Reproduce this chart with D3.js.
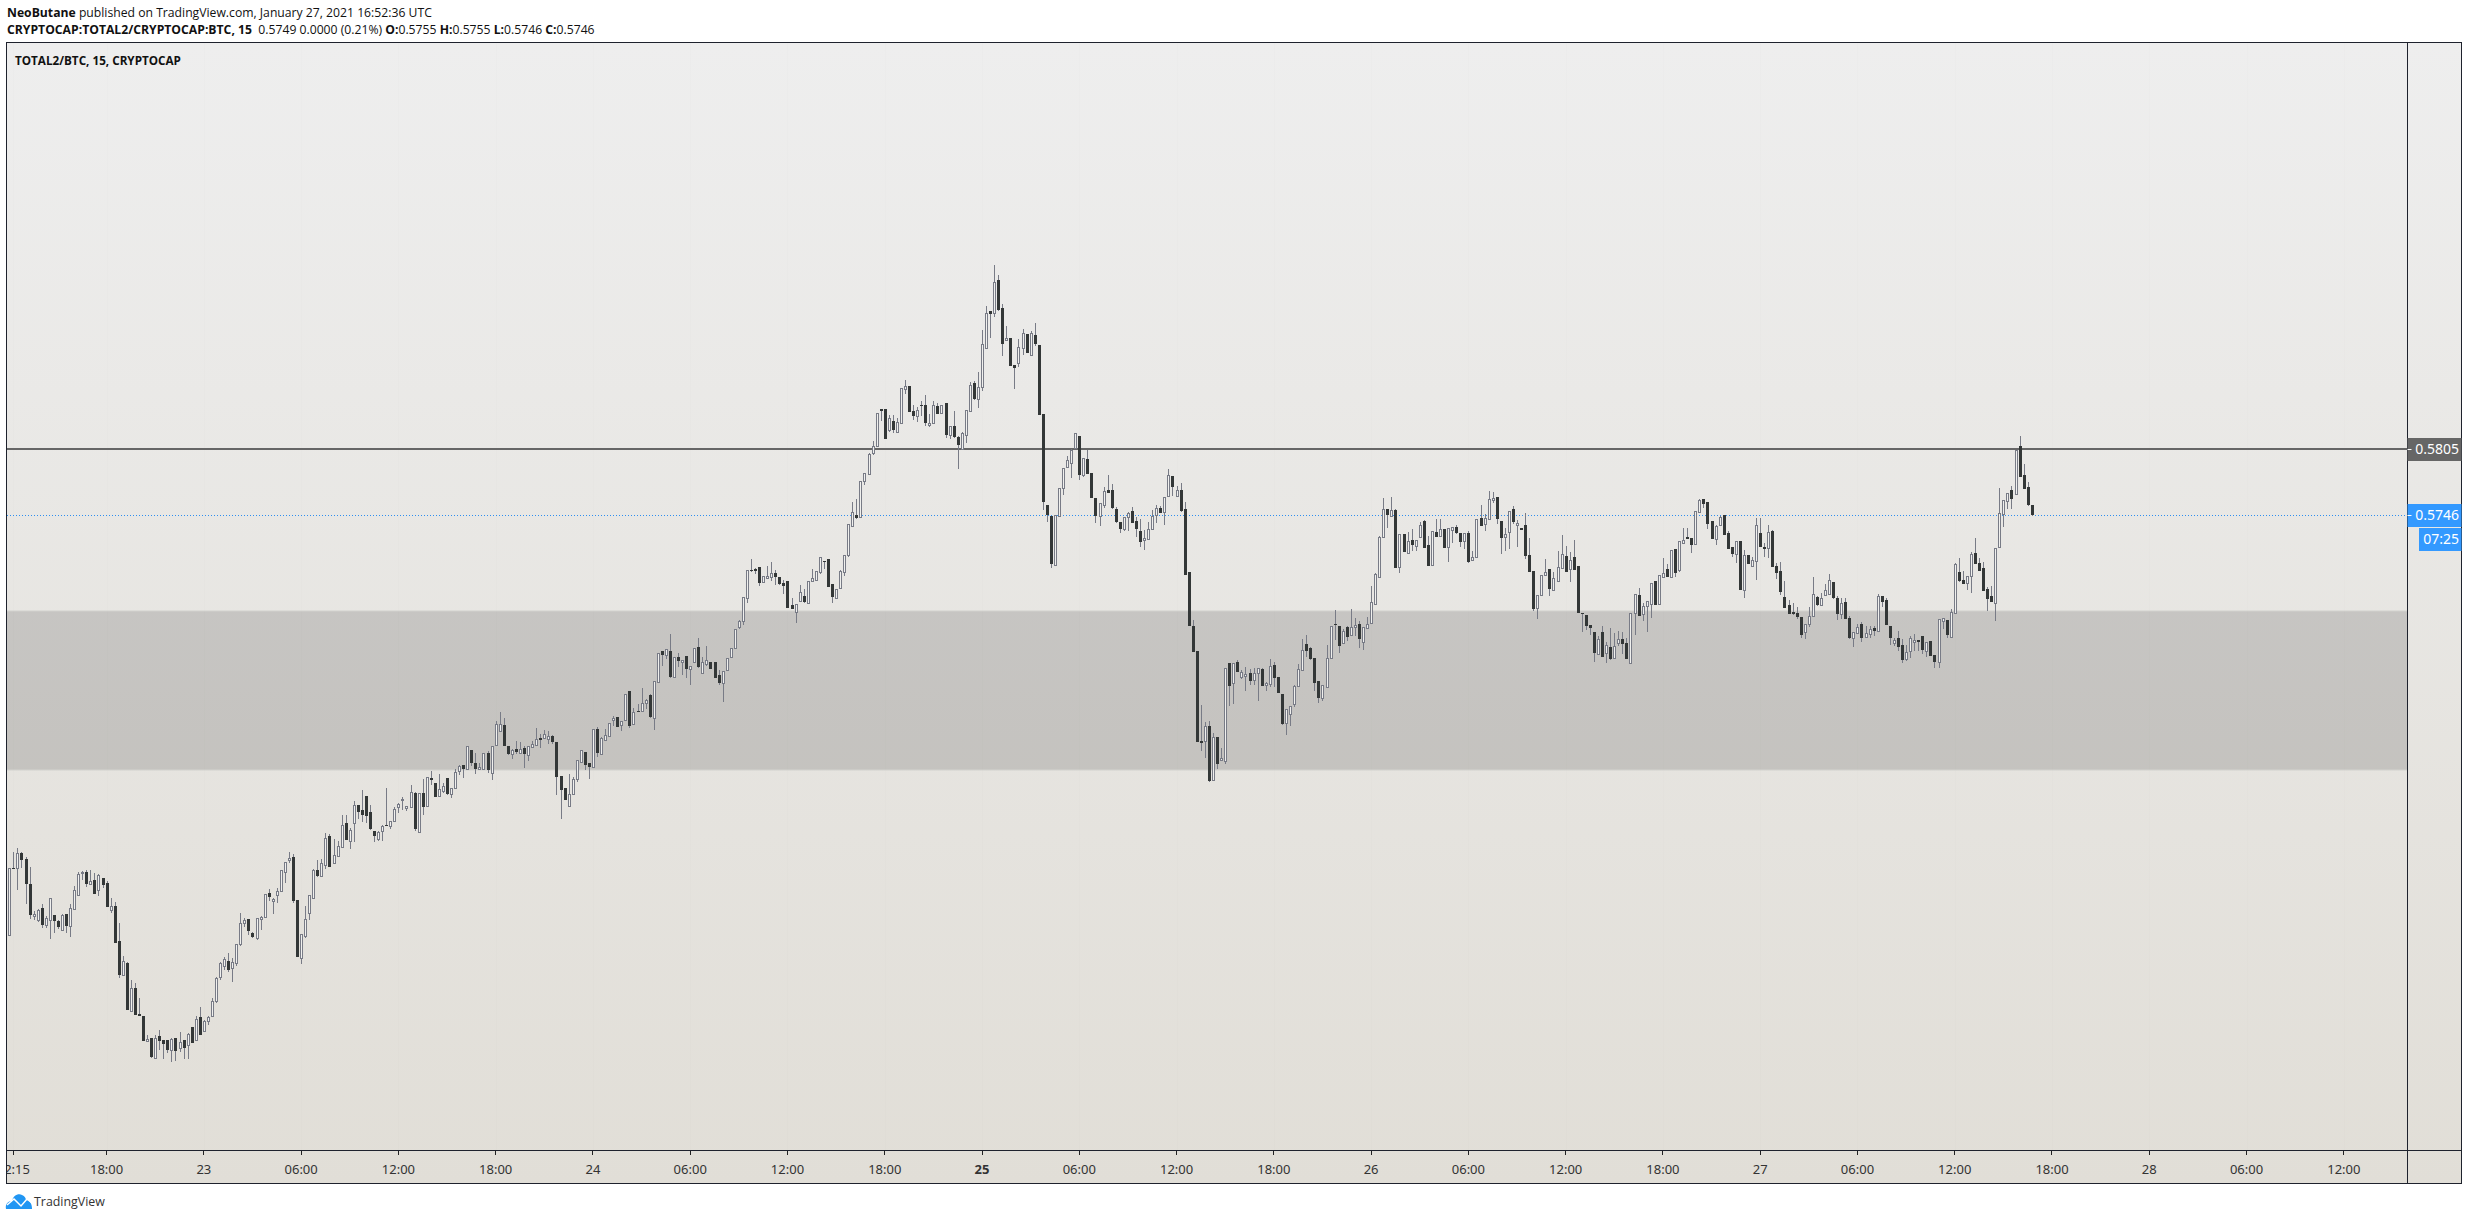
<!DOCTYPE html>
<html>
<head>
<meta charset="utf-8">
<script src="https://cdn.jsdelivr.net/npm/d3@7"></script>
<style>
  html, body { margin: 0; padding: 0; background: #fff; }
  svg { display: block; }
  text { font-family: "Open Sans", "Noto Sans", sans-serif; }
  .tick-label { font-family: "Noto Sans", sans-serif; font-size: 13px; fill: #333; }
  .price-label { font-family: "Noto Sans", sans-serif; font-size: 14px; fill: #fff; }
</style>
</head>
<body>
<div id="chart"></div>
<script>
// prices, in 1/100000 of a unit, one candle every 15 minutes from Jan 22 12:00
const opens = [
53676,54279,54282,54411,54360,54135,53850,53814,53919,53769,
53814,53853,53802,53724,53862,53757,53913,54036,54237,54243,
54138,54171,54084,54189,54144,53904,53937,53619,53319,53424,
52995,53199,52965,52947,52725,52749,52566,52764,52728,52728,
52644,52749,52662,52728,52683,52845,52731,52935,52809,52905,
52950,53082,53301,53400,53439,53382,53424,53595,53787,53817,
53691,53652,53823,53838,54051,53985,54033,54075,54246,54354,
54375,53988,53472,53670,53877,54009,54261,54207,54306,54567,
54321,54390,54471,54681,54525,54687,54846,54798,54927,54780,
54609,54540,54615,54666,54660,54702,54831,54891,54822,54825,
54954,54606,54954,54840,55086,55041,54930,54972,55086,54948,
55002,55155,55203,55173,55338,55221,55173,55173,55314,55137,
55389,55515,55566,55377,55308,55347,55317,55356,55299,55371,
55389,55449,55452,55443,55467,55413,55107,54999,54840,54945,
55083,55236,55323,55221,55191,55530,55305,55431,55470,55614,
55635,55569,55614,55872,55578,55689,55695,55767,55836,55632,
55950,56229,56193,56232,56001,56175,56136,56184,56073,56130,
56265,56037,56118,56130,56130,56013,55941,56064,56181,56262,
56451,56505,56712,56958,56970,56985,56856,56892,56901,56934,
56898,56844,56862,56646,56580,56685,56727,56667,56865,56871,
56946,57039,57060,56835,56709,56802,56946,57096,57360,57453,
57441,57765,57828,58017,58080,58410,58410,58221,58302,58206,
58287,58593,58617,58392,58347,58446,58446,58266,58287,58437,
58377,58464,58179,58257,58161,58050,58179,58395,58641,58503,
58611,58962,59289,59277,59568,59316,59031,59046,58803,58827,
58962,59085,58893,59076,58986,58365,57543,57447,57003,57444,
57696,57891,57927,58056,58164,57816,57957,57831,57606,57450,
57546,57678,57681,57507,57390,57333,57435,57489,57399,57309,
57231,57243,57327,57456,57516,57486,57630,57807,57630,57681,
57510,56940,56457,56229,55422,55419,55557,55074,55458,55248,
55245,56124,55941,56133,55995,56004,56031,55968,56031,56067,
55923,55932,56103,55998,55842,55581,55662,55752,55914,56058,
56292,56256,56166,55959,55812,55911,56166,56475,56457,56301,
56445,56373,56445,56472,56310,56442,56481,56652,56895,57255,
57510,57450,57501,56985,57282,57117,57228,57180,57255,57402,
57183,57006,57303,57264,57327,57171,57324,57345,57291,57225,
57291,57048,57075,57429,57378,57417,57591,57615,57399,57255,
57300,57507,57363,57336,57363,57093,56949,56622,56733,56913,
56967,56784,56865,56982,57084,56967,57075,56994,56571,56553,
56466,56400,56202,56400,56211,56265,56172,56301,56340,56301,
56121,56577,56733,56568,56634,56652,56859,56652,56895,56967,
56898,57147,56964,57201,57255,57246,57192,57480,57597,57570,
57399,57237,57363,57453,57291,57165,57102,57219,56778,57093,
56994,57039,57291,57165,57156,57312,56997,56952,56718,56646,
56583,56571,56538,56406,56478,56550,56718,56649,56739,56748,
56850,56709,56568,56673,56529,56352,56394,56475,56361,56388,
56439,56415,56727,56691,56457,56307,56349,56286,56163,56232,
56316,56331,56367,56232,56322,56196,56136,56505,56511,56361,
56577,56943,56871,56847,56910,57114,57024,56979,56790,56727,
56667,57171,57468,57585,57681,57648,58074,57816,57708,57546
]

const closes = [
54276,54273,54411,54351,54135,53856,53862,53901,53766,53826,
54006,53802,53748,53856,53757,53916,54078,54225,54243,54135,
54159,54045,54213,54126,53928,53934,53604,53316,53439,53001,
53196,52956,52947,52725,52737,52581,52746,52722,52695,52641,
52737,52635,52710,52659,52782,52704,52917,52776,52899,52941,
53079,53289,53424,53457,53361,53430,53592,53781,53814,53715,
53658,53826,53835,54042,54018,54003,54075,54258,54330,54372,
53985,53481,53682,53817,54033,54261,54207,54321,54546,54288,
54393,54474,54663,54531,54624,54843,54783,54756,54747,54627,
54570,54606,54657,54660,54705,54807,54852,54897,54840,54966,
54630,54957,54831,55095,55071,54921,54987,55014,54945,55002,
55140,55194,55173,55374,55224,55173,55185,55311,55161,55374,
55572,55572,55377,55305,55344,55323,55353,55305,55374,55392,
55437,55431,55482,55470,55413,55098,54981,54891,54942,55080,
55248,55338,55206,55188,55527,55314,55446,55479,55581,55632,
55548,55605,55848,55557,55686,55683,55767,55794,55635,55965,
56211,56196,56253,55995,56175,56145,56154,56073,56100,56256,
56088,56136,56154,56070,55992,55944,56055,56166,56262,56433,
56499,56721,56958,56952,56952,56847,56904,56904,56931,56898,
56835,56817,56619,56610,56652,56760,56673,56859,56886,56949,
57075,57033,56808,56718,56787,56949,57093,57372,57480,57429,
57759,57831,58005,58074,58371,58392,58140,58326,58221,58293,
58596,58614,58383,58347,58398,58440,58284,58284,58443,58365,
58443,58176,58254,58161,58086,58191,58398,58623,58500,58605,
58992,59271,59265,59550,59301,58998,59046,58797,58782,58971,
59091,58914,59091,58998,58359,57576,57453,57018,57459,57696,
57876,57948,58041,58197,57816,57966,57828,57612,57450,57561,
57669,57657,57519,57393,57333,57435,57477,57387,57333,57216,
57246,57333,57447,57516,57477,57621,57813,57711,57678,57492,
56916,56460,56226,55416,55407,55554,55062,55455,55215,55272,
56076,55920,56127,56046,56040,56028,55965,56037,56082,55920,
55941,56100,55992,55854,55575,55707,55740,55914,56067,56238,
56235,56163,55947,55812,55929,56172,56454,56469,56280,56409,
56361,56445,56469,56343,56445,56478,56670,56922,57255,57507,
57456,57498,56982,57282,57126,57219,57186,57228,57363,57162,
57000,57309,57261,57327,57159,57336,57351,57297,57216,57291,
57033,57075,57417,57360,57426,57597,57606,57423,57252,57288,
57495,57393,57381,57324,57090,56946,56610,56733,56913,56946,
56793,56886,56985,57102,56946,57048,56964,56574,56565,56460,
56442,56217,56337,56181,56289,56160,56280,56337,56298,56160,
56571,56742,56550,56634,56685,56841,56649,56913,56937,56901,
57138,56937,57219,57228,57243,57189,57495,57588,57558,57378,
57243,57354,57435,57279,57153,57108,57219,56784,57093,57018,
57048,57363,57171,57153,57300,56991,56937,56766,56622,56568,
56568,56538,56379,56472,56544,56742,56649,56709,56778,56868,
56712,56565,56661,56520,56346,56400,56445,56352,56391,56430,
56412,56724,56676,56466,56349,56331,56268,56151,56220,56346,
56328,56313,56241,56310,56187,56133,56517,56526,56376,56580,
57015,56862,56835,56904,57105,57015,56952,56772,56700,56673,
57156,57471,57588,57651,57600,58041,57798,57690,57546,57458
]

const highs = [
54276,54426,54456,54423,54375,54285,53895,53907,53952,53847,
54006,53856,53811,53862,53865,53952,54114,54240,54252,54261,
54261,54231,54228,54189,54159,54009,53973,53781,53484,53430,
53268,53241,53106,52947,52773,52749,52773,52818,52728,52728,
52746,52749,52800,52728,52794,52845,52947,53025,52911,52947,
53106,53298,53433,53475,53514,53466,53592,53871,53826,53817,
53700,53832,53847,54042,54090,54006,54102,54258,54330,54423,
54402,53988,53682,53937,54039,54267,54351,54357,54594,54582,
54537,54522,54753,54756,54636,54879,54846,54981,54927,54846,
54609,54615,54666,54996,54705,54831,54867,54915,54840,55026,
54963,54957,55080,55095,55152,55041,55125,55041,55086,55002,
55167,55206,55203,55374,55338,55311,55221,55311,55332,55374,
55599,55680,55626,55377,55353,55419,55413,55377,55374,55422,
55539,55485,55518,55509,55473,55413,55107,54999,55125,55095,
55248,55338,55323,55221,55527,55545,55455,55530,55581,55647,
55635,55605,55848,55872,55722,55755,55896,55800,55842,55965,
56211,56229,56253,56385,56175,56214,56154,56184,56100,56256,
56346,56175,56277,56130,56130,56058,56055,56166,56262,56433,
56511,56721,56958,57060,56976,56985,56904,56997,57033,56958,
56898,56871,56862,56706,56652,56826,56787,56859,56967,56949,
57075,57039,57060,56835,56787,56961,57093,57372,57573,57597,
57759,57831,58011,58122,58371,58410,58410,58356,58356,58329,
58596,58671,58617,58446,58431,58482,58536,58365,58482,58461,
58443,58464,58254,58392,58167,58200,58398,58653,58665,58743,
59121,59337,59289,59706,59613,59352,59157,59046,58803,59037,
59127,59085,59109,59181,58986,58365,57543,57447,57459,57696,
57876,57987,58047,58197,58164,57966,58041,57831,57606,57561,
57705,57816,57735,57528,57390,57435,57480,57528,57441,57420,
57321,57393,57501,57543,57537,57621,57867,57807,57717,57744,
57573,56940,56511,56229,55746,55590,55602,55491,55458,55359,
56076,56124,56127,56151,56061,56088,56070,56082,56082,56076,
55950,56160,56130,55998,55842,55707,55740,55929,56115,56340,
56376,56265,56166,55959,55929,56286,56454,56598,56457,56427,
56454,56607,56526,56502,56445,56535,56817,56931,57264,57606,
57510,57615,57507,57282,57282,57300,57330,57228,57396,57411,
57264,57309,57417,57417,57327,57336,57351,57363,57291,57291,
57312,57132,57417,57546,57462,57672,57660,57621,57399,57336,
57495,57534,57408,57336,57474,57246,56949,56733,56913,57060,
56967,56940,57132,57273,57177,57120,57231,56994,56571,56559,
56466,56406,56367,56457,56316,56436,56391,56412,56400,56346,
56571,56742,56799,56664,56685,56841,56859,56913,57066,57015,
57138,57147,57219,57336,57336,57246,57495,57597,57603,57570,
57399,57363,57444,57453,57312,57165,57219,57219,57141,57099,
57075,57429,57429,57201,57363,57321,57021,57033,56862,56691,
56664,56631,56538,56472,56628,56898,56724,56754,56835,56925,
56850,56724,56709,56709,56547,56400,56475,56493,56457,56457,
56457,56745,56727,56709,56457,56349,56412,56340,56286,56367,
56385,56331,56367,56310,56322,56196,56517,56526,56511,56610,
57024,57069,56952,56904,57123,57249,57069,57033,56808,56817,
57156,57696,57588,57651,57717,58041,58167,57915,57753,57546
]

const lows = [
53670,54273,54081,54279,53955,53820,53811,53796,53742,53742,
53643,53697,53730,53721,53697,53661,53913,54030,54171,54111,
54138,54045,54030,54102,53928,53877,53604,53289,53319,53001,
52995,52956,52947,52725,52725,52572,52566,52641,52563,52614,
52536,52545,52620,52563,52563,52704,52725,52776,52803,52866,
52950,53067,53274,53361,53340,53256,53397,53580,53748,53676,
53652,53631,53721,53826,53982,53865,53967,54075,54147,54327,
53967,53481,53415,53652,53814,53997,54201,54201,54273,54288,
54318,54390,54471,54531,54450,54513,54720,54696,54684,54621,
54513,54519,54519,54660,54630,54693,54777,54801,54792,54825,
54612,54606,54756,54840,55026,54921,54930,54951,54939,54912,
55002,55116,55092,55173,55197,55128,55173,55173,55137,55074,
55389,55515,55377,55296,55260,55308,55317,55179,55242,55371,
55389,55359,55440,55395,55395,54936,54720,54891,54840,54936,
55053,55236,55161,55080,55191,55281,55296,55431,55470,55557,
55548,55512,55614,55542,55566,55683,55695,55710,55626,55521,
55950,56097,56163,55986,56001,56088,56016,55989,55926,56130,
56079,56028,56097,56070,55992,55929,55776,56064,56181,56262,
56433,56466,56664,56943,56925,56820,56847,56892,56865,56829,
56826,56745,56619,56610,56487,56676,56667,56667,56865,56865,
56925,56970,56808,56667,56700,56802,56907,57081,57360,57423,
57441,57726,57828,57999,58080,58302,58140,58206,58191,58206,
58287,58545,58383,58311,58296,58347,58260,58248,58287,58365,
58377,58149,58143,58149,57870,58050,58104,58395,58491,58422,
58575,58947,59052,59241,59295,58890,59031,58797,58590,58791,
58896,58914,58893,58977,58359,57501,57396,56982,57003,57444,
57636,57876,57789,58053,57771,57798,57828,57612,57384,57357,
57516,57657,57513,57387,57294,57315,57315,57381,57258,57171,
57141,57237,57327,57387,57471,57366,57630,57630,57630,57486,
56916,56460,56226,55416,55332,55269,55053,55074,55170,55248,
55215,55740,55755,56046,55983,55875,55926,55926,55782,55920,
55875,55911,55911,55854,55566,55476,55557,55728,55905,56058,
56178,56151,55872,55764,55785,55902,56166,56334,56217,56301,
56322,56373,56367,56256,56241,56430,56481,56652,56895,57255,
57342,57450,56982,56937,57126,57111,57135,57135,57255,57162,
57000,56997,57261,57264,57159,57033,57204,57288,57168,57150,
57027,57048,57075,57360,57312,57417,57567,57375,57105,57132,
57150,57375,57171,57324,57063,56946,56595,56523,56733,56913,
56730,56784,56865,56973,56946,56856,56964,56574,56406,56424,
56379,56136,56202,56181,56127,56151,56160,56280,56205,56160,
56121,56376,56550,56502,56403,56529,56649,56652,56895,56901,
56892,56898,56946,57201,57243,57117,57192,57480,57522,57330,
57243,57189,57363,57279,57153,57078,57027,56784,56712,57018,
56985,56871,57171,57081,57072,56991,56883,56736,56622,56568,
56556,56523,56352,56343,56451,56550,56637,56649,56739,56748,
56700,56514,56517,56520,56340,56271,56388,56313,56361,56349,
56367,56415,56631,56466,56286,56277,56232,56124,56142,56169,
56235,56229,56205,56178,56187,56079,56079,56430,56349,56361,
56577,56856,56835,56781,56754,57015,56952,56772,56595,56673,
56502,57171,57351,57510,57510,57648,57798,57690,57537,57447
]

// bar number of each time label, bar 0 = Jan 22 12:00
const tickBars = [1,24,48,72,96,120,144,168,192,216,240,264,288,312,336,360,384,408,432,456,480,504,528,552,576]
const tickLabels = ["12:15","18:00","23","06:00","12:00","18:00","24","06:00","12:00","18:00","25","06:00","12:00","18:00","26","06:00","12:00","18:00","27","06:00","12:00","18:00","28","06:00","12:00"]

const zonePrices = [55161, 56592]
const levelPrice = 58050
const countdown = "07:25"

const headerLine1 = ["NeoButane", " published on TradingView.com, January 27, 2021 16:52:36 UTC"]
const headerLine2 = ["CRYPTOCAP:TOTAL2/CRYPTOCAP:BTC, 15", "  0.5749 0.0000 (0.21%) ", "O:", "0.5755 ", "H:", "0.5755 ", "L:", "0.5746 ", "C:", "0.5746"]
const paneTitle = "TOTAL2/BTC, 15, CRYPTOCAP"


const dimensions = { width: 2468, height: 1220, left: 6.5, top: 42.5, paneRight: 2407.5, paneBottom: 1150.5, right: 2461.5, bottom: 1183.5 }

const svg = d3.select("#chart").append("svg")
  .attr("width", dimensions.width)
  .attr("height", dimensions.height)
  .attr("viewBox", `0 0 ${dimensions.width} ${dimensions.height}`)

const defs = svg.append("defs")
const grad = defs.append("linearGradient").attr("id", "bg").attr("x1", 0).attr("x2", 0).attr("y1", 0).attr("y2", 1)
grad.append("stop").attr("offset", "0%").attr("stop-color", "#eeeeee")
grad.append("stop").attr("offset", "100%").attr("stop-color", "#e1ded7")

// scales
const xScale = d3.scaleLinear().domain([0, 576]).range([9.3, 2343.8])
const yScale = d3.scaleLinear().domain([51741, 61704]).range([1150, 43])

svg.append("rect")
  .attr("x", dimensions.left).attr("y", dimensions.top)
  .attr("width", dimensions.right - dimensions.left).attr("height", dimensions.bottom - dimensions.top)
  .attr("fill", "url(#bg)")

// faint day/hour grid
svg.append("g").selectAll("line").data(tickBars).join("line")
  .attr("x1", d => Math.round(xScale(d)) + 0.5).attr("x2", d => Math.round(xScale(d)) + 0.5)
  .attr("y1", dimensions.top).attr("y2", dimensions.paneBottom)
  .attr("stroke", "#000").attr("stroke-opacity", 0.006)

// grey zone
svg.append("rect")
  .attr("x", dimensions.left).attr("width", dimensions.paneRight - dimensions.left)
  .attr("y", yScale(zonePrices[1])).attr("height", yScale(zonePrices[0]) - yScale(zonePrices[1]))
  .attr("fill", "#000").attr("fill-opacity", 0.14)
  .attr("stroke", "#d2d2ce").attr("stroke-width", 1)

// level lines sit under the candles
const lastClose = closes[closes.length - 1]
svg.append("line")
  .attr("x1", dimensions.left).attr("x2", dimensions.paneRight)
  .attr("y1", Math.round(yScale(levelPrice))).attr("y2", Math.round(yScale(levelPrice)))
  .attr("stroke", "#666").attr("stroke-width", 2)

svg.append("line")
  .attr("x1", 7).attr("x2", dimensions.paneRight)
  .attr("y1", Math.round(yScale(lastClose)) + 0.5).attr("y2", Math.round(yScale(lastClose)) + 0.5)
  .attr("stroke", "#2f8ff0").attr("stroke-width", 1).attr("stroke-dasharray", "1 2")
  .attr("shape-rendering", "crispEdges")

// candles
const bars = d3.range(closes.length)
const candles = svg.append("g").attr("shape-rendering", "crispEdges")

candles.selectAll(".wick").data(bars).join("line")
  .attr("class", "wick")
  .attr("x1", i => Math.round(xScale(i)) + 0.5).attr("x2", i => Math.round(xScale(i)) + 0.5)
  .attr("y1", i => yScale(highs[i])).attr("y2", i => yScale(lows[i]))
  .attr("stroke", "#787b86")

const isUp = i => closes[i] >= opens[i]
const bodyTop = i => Math.round(yScale(Math.max(opens[i], closes[i])))
const bodyHeight = i => Math.max(1, Math.round(yScale(Math.min(opens[i], closes[i]))) - bodyTop(i))

candles.selectAll(".down").data(bars.filter(i => !isUp(i))).join("rect")
  .attr("class", "down")
  .attr("x", i => Math.round(xScale(i)) - 1).attr("width", 3)
  .attr("y", bodyTop).attr("height", bodyHeight)
  .attr("fill", "#333737")

candles.selectAll(".up").data(bars.filter(isUp)).join("rect")
  .attr("class", "up")
  .attr("x", i => Math.round(xScale(i)) - 0.5).attr("width", 2)
  .attr("y", i => bodyTop(i) + 0.5).attr("height", bodyHeight)
  .attr("fill", "#f0f0ee").attr("stroke", "#787b86")

// time axis
const xAxisGenerator = d3.axisBottom(xScale)
  .tickValues(tickBars)
  .tickFormat((d, i) => tickLabels[i])
  .tickSize(4)
  .tickPadding(10)
  .offset(0)

defs.append("clipPath").attr("id", "axisClip").append("rect")
  .attr("x", dimensions.left).attr("y", 0).attr("width", 2460).attr("height", 40)

const xAxis = svg.append("g")
  .attr("transform", `translate(0, ${dimensions.paneBottom})`)
  .attr("clip-path", "url(#axisClip)")
  .call(xAxisGenerator)

xAxis.select(".domain").remove()
xAxis.selectAll("line").attr("stroke", "#222").attr("shape-rendering", "crispEdges")
xAxis.selectAll("text").attr("class", "tick-label")
  .style("font-weight", (d, i) => tickLabels[i] === "25" ? 700 : 400)

// frame
svg.append("rect")
  .attr("x", dimensions.left).attr("y", dimensions.top)
  .attr("width", dimensions.right - dimensions.left).attr("height", dimensions.bottom - dimensions.top)
  .attr("fill", "none").attr("stroke", "#1e222d")
svg.append("line")
  .attr("x1", dimensions.paneRight).attr("x2", dimensions.paneRight)
  .attr("y1", dimensions.top).attr("y2", dimensions.bottom).attr("stroke", "#1e222d")
svg.append("line")
  .attr("x1", dimensions.left).attr("x2", dimensions.right)
  .attr("y1", dimensions.paneBottom).attr("y2", dimensions.paneBottom).attr("stroke", "#1e222d")

// price labels on the right
function priceLabel(price, fill) {
  const y = Math.round(yScale(price))
  const g = svg.append("g")
  g.append("rect").attr("x", dimensions.paneRight).attr("y", y - 11).attr("width", 54).attr("height", 23).attr("fill", fill)
  g.append("line").attr("x1", dimensions.paneRight).attr("x2", dimensions.paneRight + 4).attr("y1", y + 0.5).attr("y2", y + 0.5).attr("stroke", "#fff")
  g.append("text").attr("x", 2459).attr("y", y + 5).attr("text-anchor", "end")
    .attr("class", "price-label").text((price / 1e5).toFixed(4))
  return y
}
priceLabel(levelPrice, "#666666")
const lastY = priceLabel(lastClose, "#3399ff")
svg.append("rect").attr("x", 2419).attr("y", lastY + 13).attr("width", 42.5).attr("height", 23).attr("fill", "#3399ff")
svg.append("text").attr("x", 2459).attr("y", lastY + 29).attr("text-anchor", "end")
  .attr("class", "price-label").text(countdown)

// header texts
const head1 = svg.append("text").attr("x", 7).attr("y", 17).attr("font-size", 12.2).attr("fill", "#111").style("white-space", "pre")
headerLine1.forEach((t, i) => head1.append("tspan").attr("font-weight", i === 0 ? 700 : 400).text(t))
const head2 = svg.append("text").attr("x", 7).attr("y", 34).attr("font-size", 12.2).attr("fill", "#111").style("white-space", "pre")
headerLine2.forEach((t, i) => head2.append("tspan").attr("font-weight", i === 0 || (i > 1 && i % 2 === 0) ? 700 : 400).text(t))
svg.append("text").attr("x", 15).attr("y", 65).attr("font-size", 11.7).attr("font-weight", 700).attr("fill", "#111").text(paneTitle)

// footer logo
const logo = svg.append("g").attr("transform", "translate(6, 1194)")
logo.append("path")
  .attr("d", "M0 15 C-1 10 2 7 6 7 C7 2 12 -1 16 1 C19 2 20 5 20 6 C24 6 26 10 26 15 Z")
  .attr("fill", "#2196f3")
logo.append("path")
  .attr("d", "M1 11 L8 5 L15 12 L21 5 L26 9")
  .attr("fill", "none").attr("stroke", "#fff").attr("stroke-width", 1.5)
svg.append("text").attr("x", 34).attr("y", 1206).attr("font-size", 12.4).attr("fill", "#333").text("TradingView")
</script>
</body>
</html>
